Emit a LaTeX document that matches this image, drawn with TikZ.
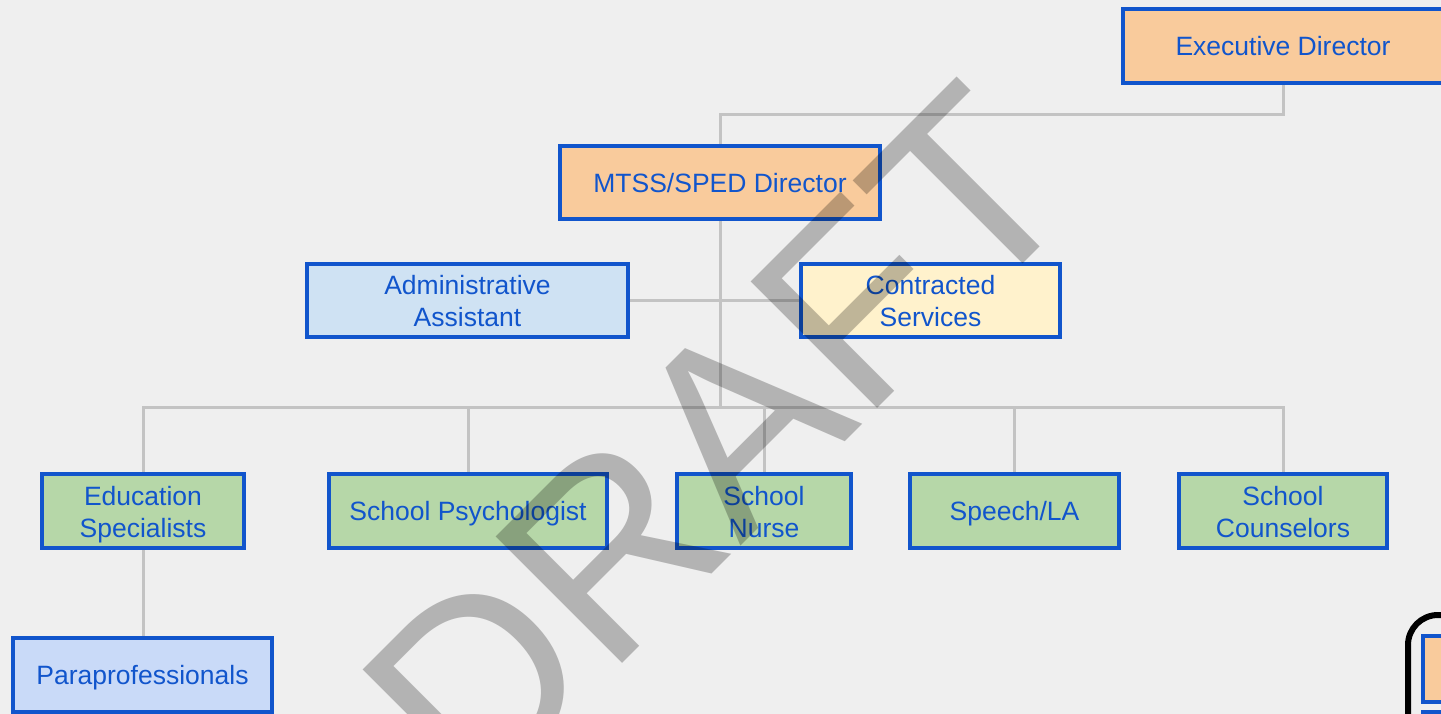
\documentclass[tikz,border=0pt]{standalone}
\usepackage{fontspec}
\setmainfont{Liberation Sans}
\usetikzlibrary{backgrounds}
\definecolor{bgc}{HTML}{EFEFEF}
\definecolor{edge}{HTML}{1155CC}
\definecolor{link}{HTML}{C3C3C3}
\definecolor{lead}{HTML}{F9CB9C}
\definecolor{staff}{HTML}{CFE2F3}
\definecolor{extern}{HTML}{FFF2CC}
\definecolor{spec}{HTML}{B6D7A8}
\definecolor{para}{HTML}{C9DAF8}
\tikzset{
  role/.style={draw=edge, line width=4pt, text=edge, align=center,
    inner sep=0pt, minimum height=74pt,
    font=\fontsize{26.5}{32}\selectfont},
  oneline/.style={text height=25pt, text depth=5.5pt},
  twoline/.style={text height=58pt, text depth=5.5pt},
  wire/.style={draw=link, line width=3pt},
}
\begin{document}
\begin{tikzpicture}[x=1pt, y=-1pt]
  \useasboundingbox (0,0) rectangle (1441,714);

  % role boxes
  \node[role, oneline, fill=lead, minimum width=320pt] (exec) at (1283,46) {Executive Director};
  \node[role, oneline, fill=lead, minimum width=320pt, minimum height=73pt] (mtss) at (720,182.5) {MTSS/SPED Director};
  \node[role, twoline, fill=staff, minimum width=321pt, minimum height=73pt] (admin) at (467.5,300.5) {Administrative\\Assistant};
  \node[role, twoline, fill=extern, minimum width=259pt, minimum height=73pt] (contr) at (930.5,300.5) {Contracted\\Services};
  \node[role, twoline, fill=spec, minimum width=202pt] (edu) at (143,511) {Education\\Specialists};
  \node[role, oneline, fill=spec, minimum width=278pt] (psych) at (468,511) {School Psychologist};
  \node[role, twoline, fill=spec, minimum width=174pt] (nurse) at (764,511) {School\\Nurse};
  \node[role, oneline, fill=spec, minimum width=209pt] (speech) at (1014.5,511) {Speech/LA};
  \node[role, twoline, fill=spec, minimum width=208pt] (couns) at (1283,511) {School\\Counselors};
  \node[role, oneline, fill=para, minimum width=259pt] (parap) at (142.5,675) {Paraprofessionals};

  % canvas and reporting lines, behind the boxes
  \coordinate (bus) at (720,407);
  \begin{scope}[on background layer]
    \fill[bgc] (0,0) rectangle (1441,714);
    \draw[wire] (exec.south) -- ++(0,30) -| (mtss.north);
    \draw[wire] (mtss.south) -- (bus);
    \draw[wire] (admin.east) -- (contr.west);
    \draw[wire] (edu.north) |- (bus) -| (couns.north);
    \draw[wire] (psych.north) -- (psych.north |- bus);
    \draw[wire] (nurse.north) -- (nurse.north |- bus);
    \draw[wire] (speech.north) -- (speech.north |- bus);
    \draw[wire] (edu.south) -- (edu.south |- parap.north);
  \end{scope}

  % legend frame
  \draw[line width=6pt, rounded corners=30pt] (1500,615) -- (1408,615) -- (1408,780);
  \draw[edge, fill=lead, line width=4pt] (1423,636) rectangle (1460,702);
  \draw[edge, fill=staff, line width=4pt] (1423,712) rectangle (1460,760);

  % watermark
  \node[rotate=45, inner sep=0pt, text=black, opacity=0.25,
    font=\fontsize{260}{260}\selectfont] (mark) at (718,442) {DRAFT};
\end{tikzpicture}
\end{document}
